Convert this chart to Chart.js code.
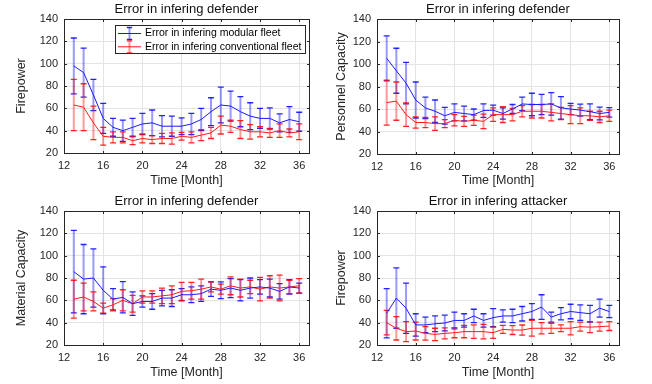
<!DOCTYPE html>
<html>
<head>
<meta charset="utf-8">
<script src="https://cdn.jsdelivr.net/npm/chart.js@4.4.1/dist/chart.umd.min.js"></script>
<style>
  html, body { margin: 0; padding: 0; background: #fff; }
  .panel { position: absolute; width: 326px; height: 192px; }
</style>
</head>
<body>
<div class="panel" style="left:0;top:0"><canvas id="c1" width="326" height="192"></canvas></div>
<div class="panel" style="left:326px;top:0"><canvas id="c2" width="326" height="192"></canvas></div>
<div class="panel" style="left:0;top:192px"><canvas id="c3" width="326" height="192"></canvas></div>
<div class="panel" style="left:326px;top:192px"><canvas id="c4" width="326" height="192"></canvas></div>
<script>
// months on the x axis
const months = [13,14,15,16,17,18,19,20,21,22,23,24,25,26,27,28,29,30,31,32,33,34,35,36];
const xTicks = [12,16,20,24,28,32,36];
const yTicks = [20,40,60,80,100,120,140];
const seriesLabels = ['Error in infering modular fleet', 'Error in infering conventional fleet'];

// top left: defender firepower
const defFireModular = [98,92,72,51,43,40,43,46,47,44,44,44,46,50,57,63,62,57,53,51,51,47,50,48];
const defFireModularErr = [25,22,14,13.5,8,9.5,8,9.5,11.5,9.5,9,7.5,9.5,10,12.5,16,13.5,13.5,12,9,9.5,8,11.5,8.5];
const defFireConv = [63,61,47,35,34,34,31,33,32,33,33,35,34,36,38,45,44,41,39,39,38,40,38,39];
const defFireConvErr = [23,21,15,8,5,5,3.5,4,3.5,4.5,5,3.5,5,5,5,8,5.5,8,6.5,4.5,4,6,3.5,7];

// top right: defender personnel capacity
const defPersModular = [105,94,83,68,61,58,54,57,56,55,58.6,59,56,60,64.5,64,64,64.5,61,60,59,57.6,56,57];
const defPersModularErr = [20,20,18.5,16,9.5,10,7.5,7.5,6.5,5,6,4.5,5,4,6,10,9,10,10,5,5.3,7,5.6,4.2];
const defPersConv = [65.7,67,55,48,48,47,47,50,49,50,49,55,55,55,58,58,58,57,56,55,54,54,53,54];
const defPersConvErr = [20,17,10.5,5,4.5,6,3.5,5,4.5,4.5,6.5,6,7,5.5,5,6,6,7.5,5.5,8,7,4,5,5];

// bottom left: defender material capacity
const defMatModular = [85.7,79,80,69,61,62.7,57,59,59,62,62,65,65,66,70,69,71,69,71,72,71,68,72,71];
const defMatModularErr = [37,31,26,21,9.5,14,10.5,5,7,7,7.5,5.5,7,7,6.5,7.5,8.5,9.5,9,6.5,8,7,6.5,4.5];
const defMatConv = [61,63,59,53,56,60,57,63,63,64,65,68,68.6,70,72,70,73,71,72,70,72,71,72,73];
const defMatConvErr = [17,12.5,8.5,4.5,5.5,9.5,7.5,5.5,5.5,7,8,8,7.5,9,4.5,4.5,8,8,6,10.5,10,11.5,6,6.5];

// bottom right: attacker firepower
const attFireModular = [48.4,62,53,38,38,39,39.7,42,42,46,42,44.5,46,46,48,50,54,45,48,50,49,48,53,50];
const attFireModularErr = [22,27,22.5,10,7,7,7,7.5,6,6,6,8,5.5,6,6.5,7,11,4.5,5.5,6.5,7,7.5,8,5.5];
const attFireConv = [40,35,32,32.5,30.4,29.5,30.4,31,32,32,32,31,34,33.4,33.4,35,35,35,35,35,36.4,36,36.4,37];
const attFireConvErr = [11,10.5,9,8,6,5.5,5,4.5,5.5,6,6.5,5,3.5,4,4.5,7,5,4.5,3,6,4,5,4,4];

Chart.defaults.font.family = '"Liberation Sans", Arial, Helvetica, sans-serif';
Chart.defaults.color = '#262626';

const BLUE = { line: '#1a1aff', bar: 'rgba(0,0,255,0.4)', cap: 'rgba(0,0,255,0.85)' };
const RED = { line: '#ff1a1a', bar: 'rgba(255,0,0,0.4)', cap: 'rgba(255,0,0,0.85)' };

function drawErrIcon(ctx, cx, cy, c) {
  ctx.strokeStyle = c.bar; ctx.lineWidth = 2;
  ctx.beginPath(); ctx.moveTo(cx, cy - 6); ctx.lineTo(cx, cy + 6); ctx.stroke();
  ctx.strokeStyle = c.cap; ctx.lineWidth = 1.3;
  ctx.beginPath();
  ctx.moveTo(cx - 2.7, cy - 6); ctx.lineTo(cx + 2.7, cy - 6);
  ctx.moveTo(cx - 2.7, cy + 6); ctx.lineTo(cx + 2.7, cy + 6);
  ctx.stroke();
}

// error bars, box frame with inward ticks, title over the plot area and the legend
const errorBars = {
  id: 'errorBars',
  beforeDatasetsDraw(chart) {
    const { ctx, scales: { x, y } } = chart;
    ctx.save();
    chart.data.datasets.forEach(ds => {
      ds.data.forEach((p, i) => {
        const e = ds.errors[i];
        const px = x.getPixelForValue(p.x);
        const top = y.getPixelForValue(p.y + e);
        const bot = y.getPixelForValue(p.y - e);
        ctx.strokeStyle = ds.colors.bar; ctx.lineWidth = 2;
        ctx.beginPath(); ctx.moveTo(px, top); ctx.lineTo(px, bot); ctx.stroke();
        ctx.strokeStyle = ds.colors.cap; ctx.lineWidth = 1.3;
        ctx.beginPath();
        ctx.moveTo(px - 3, top); ctx.lineTo(px + 3, top);
        ctx.moveTo(px - 3, bot); ctx.lineTo(px + 3, bot);
        ctx.stroke();
      });
    });
    ctx.restore();
  },
  afterDraw(chart, args, opts) {
    const { ctx, chartArea: a, scales: { x, y } } = chart;
    const L = Math.round(a.left) + 0.5, R = Math.round(a.right) + 0.5;
    const T = Math.round(a.top) + 0.5, B = Math.round(a.bottom) + 0.5;
    ctx.save();
    ctx.strokeStyle = '#262626'; ctx.lineWidth = 1;
    ctx.strokeRect(L, T, R - L, B - T);
    ctx.beginPath();
    x.ticks.forEach(t => {
      const px = Math.round(x.getPixelForValue(t.value)) + 0.5;
      ctx.moveTo(px, B); ctx.lineTo(px, B - 2.5);
      ctx.moveTo(px, T); ctx.lineTo(px, T + 2.5);
    });
    y.ticks.forEach(t => {
      const py = Math.round(y.getPixelForValue(t.value)) + 0.5;
      ctx.moveTo(L, py); ctx.lineTo(L + 2.5, py);
      ctx.moveTo(R, py); ctx.lineTo(R - 2.5, py);
    });
    ctx.stroke();

    // panel title, centred on the axes box
    ctx.fillStyle = '#111';
    ctx.font = '13px "Liberation Sans", Arial, sans-serif';
    ctx.textAlign = 'center';
    ctx.textBaseline = 'middle';
    ctx.fillText(opts.title, (a.left + a.right) / 2, a.top - 9.5);
    ctx.textAlign = 'left';

    if (opts.legend) {
      const bx = 115.5, by = 25.5, bw = 190, bh = 28;
      ctx.fillStyle = '#fff';
      ctx.fillRect(bx, by, bw, bh);
      ctx.strokeStyle = '#262626';
      ctx.strokeRect(bx, by, bw, bh);
      ctx.font = '10.5px "Liberation Sans", Arial, sans-serif';
      ctx.textBaseline = 'middle';
      chart.data.datasets.forEach((ds, i) => {
        const cy = 33.5 + i * 13.3;
        ctx.strokeStyle = ds.colors.line; ctx.lineWidth = 1;
        ctx.beginPath(); ctx.moveTo(118, cy); ctx.lineTo(141, cy); ctx.stroke();
        drawErrIcon(ctx, 129.5, cy, ds.colors);
        ctx.fillStyle = '#000';
        ctx.fillText(ds.label, 145, cy);
      });
    }
    ctx.restore();
  }
};

function makeSeries(label, vals, errs, colors) {
  return {
    label: label,
    data: months.map((m, i) => ({ x: m, y: vals[i] })),
    errors: errs,
    colors: colors,
    borderColor: colors.line,
    backgroundColor: colors.line,
    borderWidth: 1,
    pointRadius: 0,
    tension: 0,
    fill: false
  };
}

function makePanel(id, cfg) {
  new Chart(document.getElementById(id), {
    type: 'line',
    data: {
      datasets: [
        makeSeries(seriesLabels[0], cfg.blue, cfg.blueErr, BLUE),
        makeSeries(seriesLabels[1], cfg.red, cfg.redErr, RED)
      ]
    },
    options: {
      responsive: false, animation: false,
      layout: { padding: { left: 0, right: cfg.padRight, top: 19, bottom: 0 } },
      plugins: {
        legend: { display: false },
        tooltip: { enabled: false },
        title: { display: false },
        errorBars: { legend: !!cfg.legend, title: cfg.title }
      },
      scales: {
        x: {
          type: 'linear', min: 12, max: 37,
          afterBuildTicks: s => { s.ticks = xTicks.map(v => ({ value: v })); },
          afterFit: s => { s.height = cfg.xHeight; },
          grid: { color: '#e4e4e4', drawTicks: false },
          border: { display: false },
          ticks: { font: { size: 11 }, padding: 6, maxRotation: 0 },
          title: { display: true, text: 'Time [Month]', font: { size: 12.5 }, padding: { top: 0, bottom: 3.5 } }
        },
        y: {
          min: 20, max: 140,
          afterBuildTicks: s => { s.ticks = yTicks.map(v => ({ value: v })); },
          afterFit: s => { s.width = cfg.yWidth; },
          grid: { color: '#e4e4e4', drawTicks: false },
          border: { display: false },
          ticks: { font: { size: 11 }, padding: 6 },
          title: { display: true, text: cfg.yTitle, font: { size: 12.5 }, padding: { top: cfg.yTitlePad, bottom: 0 } }
        }
      }
    },
    plugins: [errorBars]
  });
}

makePanel('c1', { title: 'Error in infering defender', yTitle: 'Firepower', legend: true,
  blue: defFireModular, blueErr: defFireModularErr, red: defFireConv, redErr: defFireConvErr,
  yWidth: 64, padRight: 17, xHeight: 39, yTitlePad: 14 });
makePanel('c2', { title: 'Error in infering defender', yTitle: 'Personnel Capacity',
  blue: defPersModular, blueErr: defPersModularErr, red: defPersConv, redErr: defPersConvErr,
  yWidth: 51, padRight: 33, xHeight: 38, yTitlePad: 8 });
makePanel('c3', { title: 'Error in infering defender', yTitle: 'Material Capacity',
  blue: defMatModular, blueErr: defMatModularErr, red: defMatConv, redErr: defMatConvErr,
  yWidth: 64, padRight: 17, xHeight: 39, yTitlePad: 14 });
makePanel('c4', { title: 'Error in infering attacker', yTitle: 'Firepower',
  blue: attFireModular, blueErr: attFireModularErr, red: attFireConv, redErr: attFireConvErr,
  yWidth: 51, padRight: 33, xHeight: 39, yTitlePad: 8 });
</script>
</body>
</html>
